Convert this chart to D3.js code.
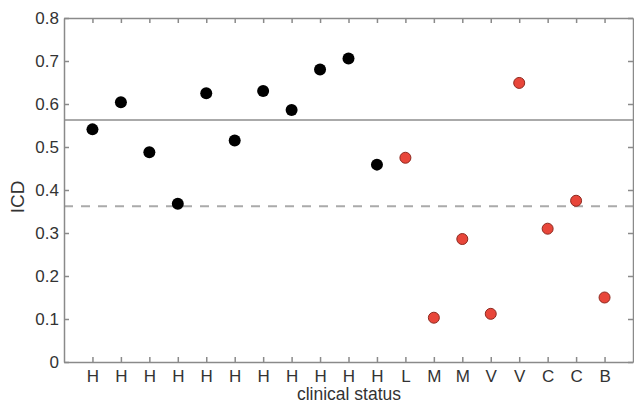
<!DOCTYPE html>
<html>
<head>
<meta charset="utf-8">
<title>ICD by clinical status</title>
<script src="https://d3js.org/d3.v7.min.js"></script>
<style>
  body { margin: 0; background: #fff; }
  text { font-family: "Liberation Sans", Arial, sans-serif; fill: #333; }
</style>
</head>
<body>
<script>
// data
var clinical = ["H","H","H","H","H","H","H","H","H","H","H","L","M","M","V","V","C","C","B"];
var icd = [0.541, 0.604, 0.488, 0.368, 0.625, 0.515, 0.630, 0.586, 0.680, 0.706,
           0.459, 0.475, 0.103, 0.286, 0.112, 0.649, 0.310, 0.375, 0.150];
var group = ["h","h","h","h","h","h","h","h","h","h","h","p","p","p","p","p","p","p","p"];
var yTicks = [0, 0.1, 0.2, 0.3, 0.4, 0.5, 0.6, 0.7, 0.8];
var solidLine = 0.563;
var dashedLine = 0.362;

var width = 634, height = 404;
var m = {left: 64, right: 1, top: 18, bottom: 42};
var n = clinical.length;

var svg = d3.select("body").append("svg")
  .attr("width", width)
  .attr("height", height);

var x = d3.scaleLinear().domain([0, n + 1]).range([m.left, width - m.right]);
var y = d3.scaleLinear().domain([0, 0.8]).range([height - m.bottom, m.top]);

var axisColor = "#8a8a8a";

// reference lines
svg.append("line")
  .attr("x1", x(0)).attr("x2", x(n + 1))
  .attr("y1", y(solidLine)).attr("y2", y(solidLine))
  .attr("stroke", "#aaa").attr("stroke-width", 2);
svg.append("line")
  .attr("x1", x(0)).attr("x2", x(n + 1))
  .attr("y1", y(dashedLine)).attr("y2", y(dashedLine))
  .attr("stroke", "#aaa").attr("stroke-width", 2)
  .attr("stroke-dasharray", "9,8");

var idx = d3.range(1, n + 1);

// axes (ticks pointing inwards, box all round)
var xAxis = svg.append("g")
  .attr("transform", "translate(0," + y(0) + ")")
  .call(d3.axisBottom(x).tickValues(idx).tickSizeInner(-5).tickSizeOuter(0)
    .tickPadding(7.5).tickFormat(function(d){ return clinical[d - 1]; }));
var xTop = svg.append("g")
  .attr("transform", "translate(0," + y(0.8) + ")")
  .call(d3.axisTop(x).tickValues(idx).tickSizeInner(-5).tickSizeOuter(0).tickFormat(""));
var yAxis = svg.append("g")
  .attr("transform", "translate(" + x(0) + ",0)")
  .call(d3.axisLeft(y).tickValues(yTicks).tickSizeInner(-5).tickSizeOuter(0)
    .tickPadding(5).tickFormat(function(d){ return d === 0 ? "0" : d3.format(".1f")(d); }));
var yRight = svg.append("g")
  .attr("transform", "translate(" + x(n + 1) + ",0)")
  .call(d3.axisRight(y).tickValues(yTicks).tickSizeInner(-5).tickSizeOuter(0).tickFormat(""));

[xAxis, xTop, yAxis, yRight].forEach(function(g){
  g.selectAll("path, line").attr("stroke", axisColor).attr("stroke-width", 1.5);
  g.selectAll("text").attr("font-size", 17).attr("fill", "#333");
});

// points
svg.selectAll("circle.pt")
  .data(icd)
  .enter().append("circle")
  .attr("class", "pt")
  .attr("cx", function(d, i){ return x(i + 1); })
  .attr("cy", function(d){ return y(d); })
  .attr("r", function(d, i){ return group[i] === "h" ? 6 : 5.5; })
  .attr("fill", function(d, i){ return group[i] === "h" ? "#000" : "#e8463a"; })
  .attr("stroke", function(d, i){ return group[i] === "h" ? "none" : "#8e2a20"; })
  .attr("stroke-width", 1);

// axis titles
svg.append("text")
  .attr("x", 349)
  .attr("y", 400)
  .attr("text-anchor", "middle")
  .attr("font-size", 17.5)
  .text("clinical status");
svg.append("text")
  .attr("transform", "translate(24,197) rotate(-90)")
  .attr("text-anchor", "middle")
  .attr("font-size", 19)
  .text("ICD");
</script>
</body>
</html>
